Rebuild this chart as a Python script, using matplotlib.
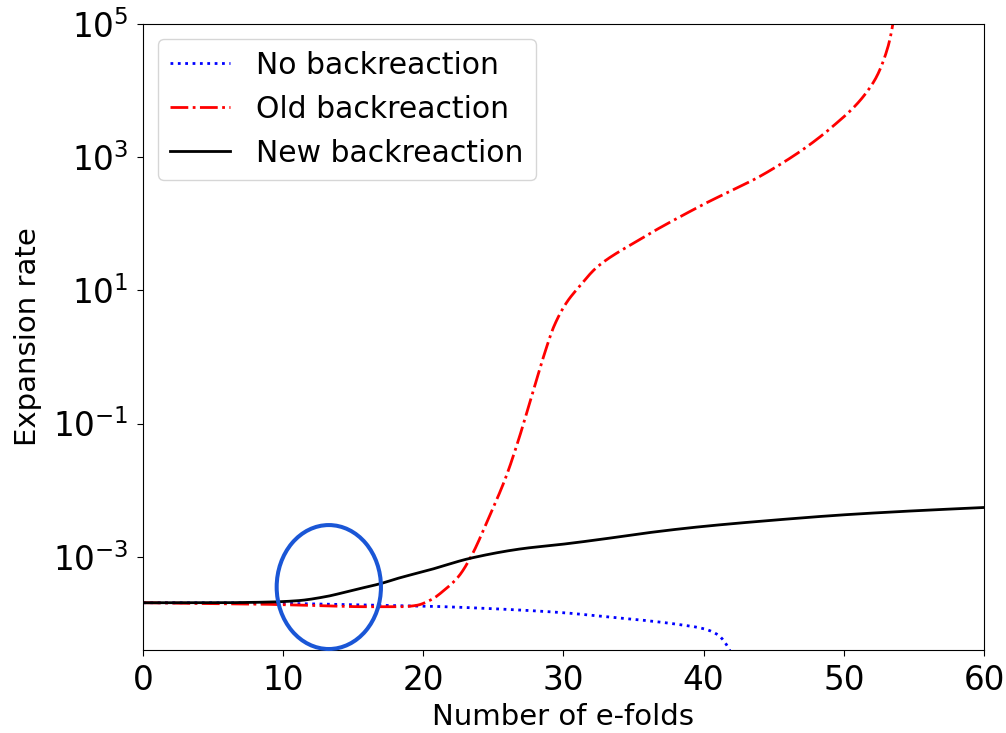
import numpy as np
import matplotlib.pyplot as plt
from matplotlib.patches import Ellipse

# e-fold samples and log10 of the expansion rate for each run
efolds_none = [0, 5, 10, 15, 20, 25, 30, 33, 36, 38, 40, 41, 41.8, 42.2]
logH_none = [-3.69, -3.69, -3.70, -3.72, -3.74, -3.78, -3.84, -3.90, -3.96, -4.01,
             -4.08, -4.17, -4.38, -4.6]

efolds_old = [0, 4, 8, 12, 16, 18.5, 19.5, 20.6, 21.5, 22.5, 23.4, 24.7, 25.9, 26.8,
              27.8, 28.8, 29.3, 30.2, 31.1, 32.4, 35.0, 39.7, 44.5, 49.2, 52.1, 53.1,
              53.5, 53.8]
logH_old = [-3.69, -3.70, -3.71, -3.73, -3.75, -3.75, -3.73, -3.64, -3.50, -3.30,
            -3.00, -2.40, -1.80, -1.24, -0.54, 0.15, 0.45, 0.81, 1.05, 1.35, 1.71,
            2.26, 2.77, 3.46, 4.12, 4.62, 5.0, 5.5]

efolds_new = [0, 5, 9, 11, 13, 15, 17, 18.25, 20.4, 23.4, 27, 30, 32.6, 36, 39.7, 45,
              50, 55, 60]
logH_new = [-3.69, -3.69, -3.68, -3.66, -3.60, -3.50, -3.40, -3.32, -3.20, -3.02,
            -2.88, -2.81, -2.74, -2.64, -2.55, -2.45, -2.37, -2.31, -2.26]


def pchip(xs, ys, n=600):
    """Shape-preserving cubic through the samples (Fritsch-Carlson slopes)."""
    xs = np.asarray(xs, float)
    ys = np.asarray(ys, float)
    h = np.diff(xs)
    d = np.diff(ys) / h
    m = np.zeros_like(ys)
    m[0], m[-1] = d[0], d[-1]
    for k in range(1, len(xs) - 1):
        if d[k - 1] * d[k] > 0:
            w1 = 2 * h[k] + h[k - 1]
            w2 = h[k] + 2 * h[k - 1]
            m[k] = (w1 + w2) / (w1 / d[k - 1] + w2 / d[k])
    xf = np.linspace(xs[0], xs[-1], n)
    i = np.clip(np.searchsorted(xs, xf) - 1, 0, len(xs) - 2)
    t = (xf - xs[i]) / h[i]
    yf = ((2 * t**3 - 3 * t**2 + 1) * ys[i] + (t**3 - 2 * t**2 + t) * h[i] * m[i]
          + (-2 * t**3 + 3 * t**2) * ys[i + 1] + (t**3 - t**2) * h[i] * m[i + 1])
    return xf, 10 ** yf


fig = plt.figure(figsize=(10.06, 7.33), dpi=100)
ax = fig.add_axes([0.1421, 0.1132, 0.836, 0.8541])

x, y = pchip(efolds_none, logH_none)
ax.plot(x, y, color='blue', linestyle=':', linewidth=2, label='No backreaction')
x, y = pchip(efolds_old, logH_old)
ax.plot(x, y, color='red', linestyle='-.', linewidth=2, label='Old backreaction')
x, y = pchip(efolds_new, logH_new)
ax.plot(x, y, color='black', linestyle='-', linewidth=2, label='New backreaction')

ax.set_yscale('log')
ax.set_xlim(0, 60)
ax.set_ylim(10 ** -4.40, 1e5)
ax.set_yticks([1e-3, 1e-1, 1e1, 1e3, 1e5])
ax.yaxis.set_minor_locator(plt.NullLocator())
ax.tick_params(axis='both', labelsize=23.5, length=4.3, pad=6)
ax.set_xlabel('Number of e-folds', fontsize=21, labelpad=4)
ax.set_ylabel('Expansion rate', fontsize=21, labelpad=8)

ax.legend(loc='upper left', fontsize=21.5, borderpad=0.4, labelspacing=0.5,
          handletextpad=0.9)

# highlight where the new backreaction starts to lift off
ax.add_patch(Ellipse((0.221, 0.1006), 0.124, 0.198, transform=ax.transAxes,
                     fill=False, edgecolor='#1a56d6', linewidth=2.9, clip_on=False,
                     zorder=5))

fig.savefig('out.png', dpi=100)
